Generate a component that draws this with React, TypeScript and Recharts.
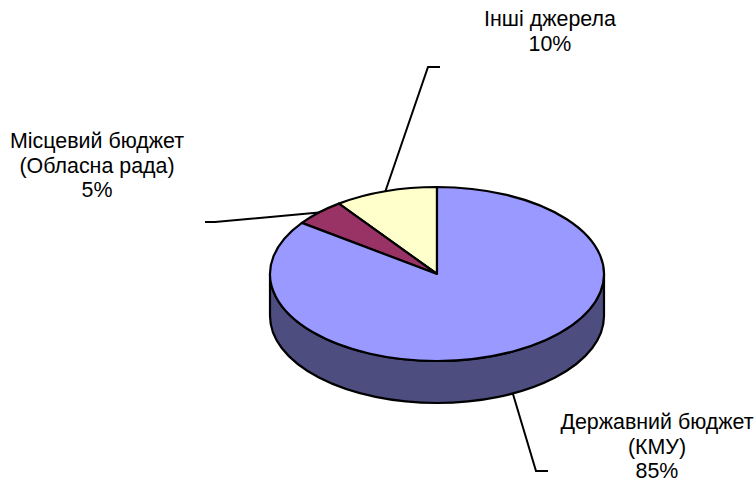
import { Pie, PieChart } from "recharts";

const names = ["Інші джерела", "Місцевий бюджет\n(Обласна рада)", "Державний бюджет\n(КМУ)"];
const shares = [10, 5, 85];
const topColors = ["#FFFFCC", "#993366", "#9999FF"];
const wallColors = ["#808066", "#4D1A33", "#4D4D80"];

const data = names.map((name, i) => ({ name, value: shares[i] }));

const W = 756;
const H = 482;
const CX = 437;
const CY = 274;
const RX = 167;
const RY = 87;
const DEPTH = 42;
const SQUASH = RY / RX;

// label placement: leader elbow offset from the anchor, stub direction, text centre and baselines
const labelLayout = [
  { elbow: [428, 67], stub: 12, textX: 550, ys: [26, 51] },
  { elbow: [215, 222], stub: -10, textX: 97, ys: [148, 173, 197] },
  { elbow: [536, 471], stub: 12, textX: 657, ys: [429, 454, 478] },
];

const rad = (deg: number) => (deg * Math.PI) / 180;
const ex = (a: number, rx: number) => rx * Math.cos(rad(a));
const ey = (a: number, rx: number) => -rx * SQUASH * Math.sin(rad(a));

function TopSlice(props: any) {
  const { cx, cy, outerRadius: r, startAngle, endAngle, index } = props;
  const large = endAngle - startAngle > 180 ? 1 : 0;
  const d = `M${cx},${cy} L${cx + ex(startAngle, r)},${cy + ey(startAngle, r)} A${r},${r * SQUASH} 0 ${large} 0 ${cx + ex(endAngle, r)},${cy + ey(endAngle, r)} Z`;
  return <path d={d} fill={topColors[index]} stroke="#000" strokeWidth={2.2} strokeLinejoin="round" />;
}

// only the front half of the rim is visible
function WallSlice(props: any) {
  const { cx, cy, outerRadius: r, startAngle, endAngle, index } = props;
  const a0 = Math.max(startAngle, 180);
  const a1 = Math.min(endAngle, 360);
  if (a0 >= a1) return <g />;
  const x0 = cx + ex(a0, r);
  const y0 = cy + ey(a0, r);
  const x1 = cx + ex(a1, r);
  const y1 = cy + ey(a1, r);
  const ry = r * SQUASH;
  const d = `M${x0},${y0} A${r},${ry} 0 0 0 ${x1},${y1} L${x1},${y1 + DEPTH} A${r},${ry} 0 0 1 ${x0},${y0 + DEPTH} Z`;
  return <path d={d} fill={wallColors[index]} stroke="#000" strokeWidth={2.2} strokeLinejoin="round" />;
}

function SliceLabel(props: any) {
  const { cx, cy, outerRadius: r, midAngle, index, name, percent } = props;
  const layout = labelLayout[index];
  const ax = cx + ex(midAngle, r);
  const onFront = midAngle > 180 && midAngle < 360;
  const ay = cy + ey(midAngle, r) + (onFront ? DEPTH : 0);
  const [ex0, ey0] = layout.elbow;
  const lines = [...String(name).split("\n"), `${Math.round(percent * 100)}%`];
  return (
    <g>
      <polyline
        points={`${ax},${ay} ${ex0},${ey0} ${ex0 + layout.stub},${ey0}`}
        fill="none"
        stroke="#000"
        strokeWidth={2}
      />
      {lines.map((line, i) => (
        <text
          key={line}
          x={layout.textX}
          y={layout.ys[i]}
          textAnchor="middle"
          fontFamily="Liberation Sans, Arial, sans-serif"
          fontSize={21.4}
          fill="#000"
        >
          {line}
        </text>
      ))}
    </g>
  );
}

export default function App() {
  return (
    <div style={{ position: "absolute", left: 0, top: 0, width: W, height: H, background: "#fff" }}>
      <PieChart width={W} height={H} margin={{ top: 0, right: 0, bottom: 0, left: 0 }}>
        <Pie
          data={data}
          dataKey="value"
          nameKey="name"
          cx={CX}
          cy={CY}
          outerRadius={RX}
          startAngle={90}
          endAngle={450}
          paddingAngle={0}
          shape={WallSlice}
          isAnimationActive={false}
        />
        <Pie
          data={data}
          dataKey="value"
          nameKey="name"
          cx={CX}
          cy={CY}
          outerRadius={RX}
          startAngle={90}
          endAngle={450}
          paddingAngle={0}
          shape={TopSlice}
          label={SliceLabel}
          labelLine={false}
          isAnimationActive={false}
        />
      </PieChart>
    </div>
  );
}
